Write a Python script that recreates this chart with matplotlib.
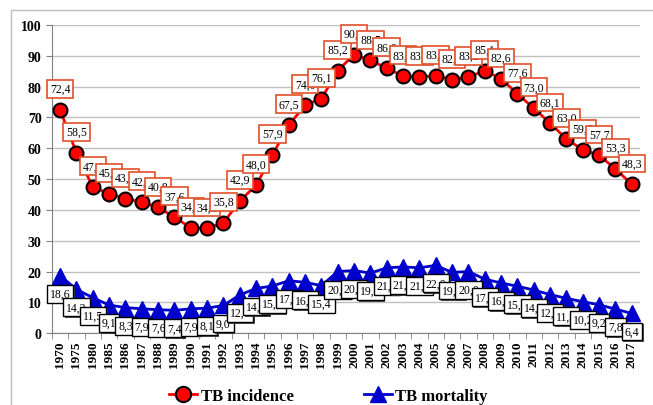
"""TB incidence and mortality, 1970-2017"""

import matplotlib
matplotlib.use("Agg")
import matplotlib.pyplot as plt
import matplotlib.patheffects as pe
from matplotlib.patches import Rectangle

# Dados
anos = ["1970", "1975", "1980"] + [str(a) for a in range(1985, 2018)]
incidencia = [72.4, 58.5, 47.4, 45.3, 43.6, 42.5, 40.8, 37.6, 34.2, 34.0,
              35.8, 42.9, 48.0, 57.9, 67.5, 74.0, 76.1, 85.2, 90.4, 88.5,
              86.0, 83.4, 83.2, 83.5, 82.3, 83.2, 85.1, 82.6, 77.6, 73.0,
              68.1, 63.0, 59.5, 57.7, 53.3, 48.3]
mortalidade = [18.6, 14.2, 11.5, 9.1, 8.3, 7.9, 7.6, 7.4, 7.9, 8.1,
               9.0, 12.4, 14.5, 15.3, 17.0, 16.5, 15.4, 20.0, 20.3, 19.5,
               21.2, 21.5, 21.2, 22.0, 19.7, 20.0, 17.5, 16.3, 15.2, 14.0,
               12.5, 11.3, 10.2, 9.2, 7.8, 6.4]

plt.rcParams["font.family"] = ["Liberation Serif", "DejaVu Serif"]

fig = plt.figure(figsize=(6.53, 4.06), dpi=100)
ax = fig.add_axes([0.0796, 0.177, 0.9004, 0.759])

# moldura do gráfico
fig.patches.append(Rectangle((11 / 653, -0.1), 1.2, 1 - 11 / 406 + 0.1,
                             transform=fig.transFigure, fill=False,
                             edgecolor="#BFBFBF", linewidth=1))

x = list(range(len(anos)))
ax.plot(x, incidencia, color="red", linewidth=2, marker="o", markersize=10,
        markerfacecolor="red", markeredgecolor="black", markeredgewidth=1.5,
        label="TB incidence", zorder=4)
ax.plot(x, mortalidade, color="#0000CC", linewidth=2, marker="^",
        markersize=11, markerfacecolor="#0000CC", markeredgecolor="#0000CC",
        label="TB mortality", zorder=4)

def fmt(v):
    return f"{v:.1f}".replace(".", ",")

for xi, v in zip(x, incidencia):
    ax.annotate(fmt(v), (xi, v), xytext=(0, 15), textcoords="offset points",
                ha="center", va="center", fontsize=8.5, zorder=5,
                bbox=dict(boxstyle="square,pad=0.25", facecolor="white",
                          edgecolor="#E0502A", linewidth=1.2))

for xi, v in zip(x, mortalidade):
    t = ax.annotate(fmt(v), (xi, v), xytext=(0, -13), textcoords="offset points",
                    ha="center", va="center", fontsize=8.5, zorder=5,
                    bbox=dict(boxstyle="square,pad=0.25", facecolor="white",
                              edgecolor="black", linewidth=1))
    t.get_bbox_patch().set_path_effects(
        [pe.SimplePatchShadow(offset=(1.2, -1.2), shadow_rgbFace="#404040", alpha=0.9),
         pe.Normal()])

ax.set_xlim(-0.5, len(anos) - 0.5)
ax.set_ylim(0, 100)
ax.set_yticks(range(0, 101, 10))
ax.set_xticks(x)
ax.set_xticklabels(anos, rotation=90, fontweight="bold", fontsize=9.5)
ax.set_xticks([i - 0.5 for i in range(len(anos) + 1)], minor=True)
ax.tick_params(axis="x", which="major", length=0, pad=5)
ax.tick_params(axis="x", which="minor", length=4, color="#808080")
ax.tick_params(axis="y", length=4, color="#808080", labelsize=10)
for lbl in ax.get_yticklabels():
    lbl.set_fontweight("bold")

ax.grid(axis="y", color="#C0C0C0", linewidth=1)
ax.set_axisbelow(True)
for s in ["top", "right"]:
    ax.spines[s].set_visible(False)
for s in ["left", "bottom"]:
    ax.spines[s].set_color("#808080")

leg = fig.legend(loc="lower center", bbox_to_anchor=(0.503, -0.035), ncol=2,
                 frameon=False, prop={"weight": "bold", "size": 12},
                 handlelength=1.7, handletextpad=0.2, columnspacing=4.2,
                 markerscale=1.1)

fig.savefig("out.png", dpi=100)
